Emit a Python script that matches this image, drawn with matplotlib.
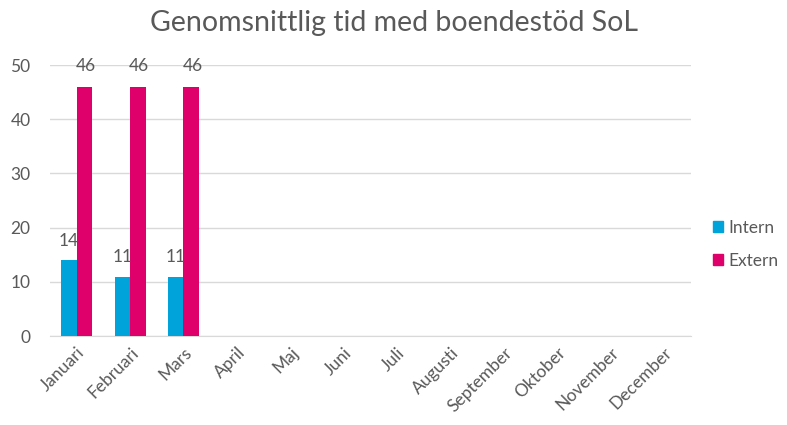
import numpy as np
import matplotlib.pyplot as plt
from matplotlib.patches import Patch

plt.rcParams['font.family'] = ['Lato', 'DejaVu Sans']

months = ["Januari", "Februari", "Mars", "April", "Maj", "Juni", "Juli",
          "Augusti", "September", "Oktober", "November", "December"]
intern = [14, 11, 11]
extern = [46, 46, 46]

c_int = "#00A3DA"
c_ext = "#E0006C"
grey = "#595959"

fig = plt.figure(figsize=(7.87, 4.25), dpi=100)
ax = fig.add_axes([0.0635, 0.209, 0.814, 0.638])

x = np.arange(len(months))
w = 0.29
xi = x[:len(intern)] - w / 2
xe = x[:len(extern)] + w / 2
ax.bar(xi, intern, w, color=c_int, zorder=3)
ax.bar(xe, extern, w, color=c_ext, zorder=3)

for xx, v in zip(xi, intern):
    ax.annotate(str(v), (xx, v), xytext=(0, 14), textcoords="offset points",
                ha="center", va="center", fontsize=12.5, color=grey)
for xx, v in zip(xe, extern):
    ax.annotate(str(v), (xx, v), xytext=(1, 15), textcoords="offset points",
                ha="center", va="center", fontsize=12.5, color=grey)

ax.set_xlim(-0.5, len(months) - 0.5)
ax.set_ylim(0, 50)
ax.set_yticks(range(0, 51, 10))
ax.set_xticks(x)
ax.set_xticklabels(months, rotation=45, ha="right", rotation_mode="anchor")
ax.tick_params(axis="both", length=0, labelsize=12.5, labelcolor=grey)
ax.tick_params(axis="y", pad=14)
ax.tick_params(axis="x", pad=6)
ax.grid(axis="y", color="#D9D9D9", linewidth=1, zorder=0)
for s in ["top", "right", "left"]:
    ax.spines[s].set_visible(False)
ax.spines["bottom"].set_color("#D9D9D9")

fig.text(0.5, 0.945, "Genomsnittlig tid med boendestöd SoL", ha="center",
         va="center", fontsize=20.5, color=grey)

handles = [Patch(color=c_int, label="Intern"), Patch(color=c_ext, label="Extern")]
fig.legend(handles=handles, loc="center left", bbox_to_anchor=(0.89, 0.425),
           frameon=False, fontsize=12.5, labelcolor=grey, handlelength=0.6,
           handleheight=0.6, handletextpad=0.3, labelspacing=1.0,
           borderpad=0.2)

fig.savefig("out.png", dpi=100)
